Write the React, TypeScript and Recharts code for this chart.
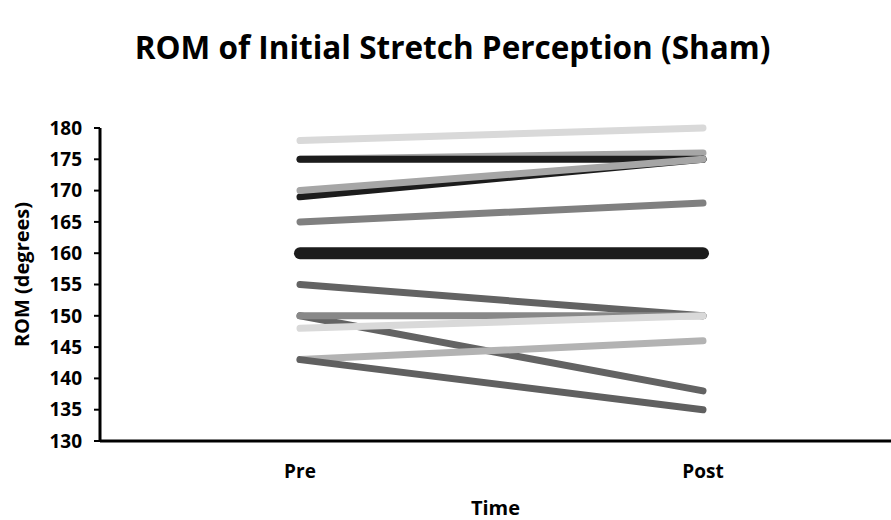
import React from 'react';
import { LineChart, Line, XAxis, YAxis, Label } from 'recharts';

const times = ['Pre', 'Post'];
const preValues = [178, 175, 175, 169, 170, 165, 160, 155, 150, 150, 148, 143, 143];
const postValues = [180, 176, 175, 175, 175, 168, 160, 150, 138, 150, 150, 146, 135];
const yTicks = [130, 135, 140, 145, 150, 155, 160, 165, 170, 175, 180];

// one stroke per subject, same order as the value arrays
const strokes = ['#d9d9d9', '#a6a6a6', '#1c1c1c', '#1c1c1c', '#a6a6a6', '#808080', '#1c1c1c', '#636363', '#636363', '#888888', '#d9d9d9', '#b3b3b3', '#606060'];
const widths = [7, 7, 7, 7, 7, 7, 12, 7, 7, 7, 7, 7, 7];

const data = times.map((t, i) => {
  const row: Record<string, string | number> = { time: t };
  preValues.forEach((v, k) => {
    row['s' + k] = i === 0 ? v : postValues[k];
  });
  return row;
});

const font = '"Open Sans", sans-serif';

export default function App() {
  return (
    <div style={{ position: 'absolute', left: 0, top: 0, width: 891, height: 520, overflow: 'hidden', background: '#fff', fontFamily: font }}>
      <div style={{ position: 'absolute', left: 7, top: 26, width: 891, textAlign: 'center', fontSize: 31.5, fontWeight: 700, lineHeight: '42px', color: '#000' }}>
        ROM of Initial Stretch Perception (Sham)
      </div>
      <LineChart width={891} height={520} data={data} margin={{ top: 128, right: 0, bottom: 19, left: 0 }}>
        <XAxis
          dataKey="time"
          padding={{ left: 200, right: 188 }}
          axisLine={{ stroke: '#000', strokeWidth: 3 }}
          tickLine={false}
          tickSize={0}
          tickMargin={24}
          height={60}
          tick={{ fill: '#000', fontSize: 19, fontWeight: 700, fontFamily: font }}
        >
          <Label value="Time" position="bottom" offset={0} style={{ fill: '#000', fontSize: 20, fontWeight: 700, fontFamily: font }} />
        </XAxis>
        <YAxis
          domain={[130, 180]}
          ticks={yTicks}
          interval={0}
          width={100}
          axisLine={{ stroke: '#000', strokeWidth: 3 }}
          tickLine={{ stroke: '#000', strokeWidth: 2 }}
          tickSize={6}
          tickMargin={12}
          tick={{ fill: '#000', fontSize: 19, fontWeight: 700, fontFamily: font }}
        >
          <Label value="ROM (degrees)" angle={-90} position="center" dx={-28} dy={-10} style={{ fill: '#000', fontSize: 20, fontWeight: 700, fontFamily: font, textAnchor: 'middle' }} />
        </YAxis>
        {preValues.map((_, k) => (
          <Line
            key={k}
            dataKey={'s' + k}
            stroke={strokes[k]}
            strokeWidth={widths[k]}
            strokeLinecap="round"
            dot={false}
            activeDot={false}
            isAnimationActive={false}
          />
        ))}
      </LineChart>
    </div>
  );
}
